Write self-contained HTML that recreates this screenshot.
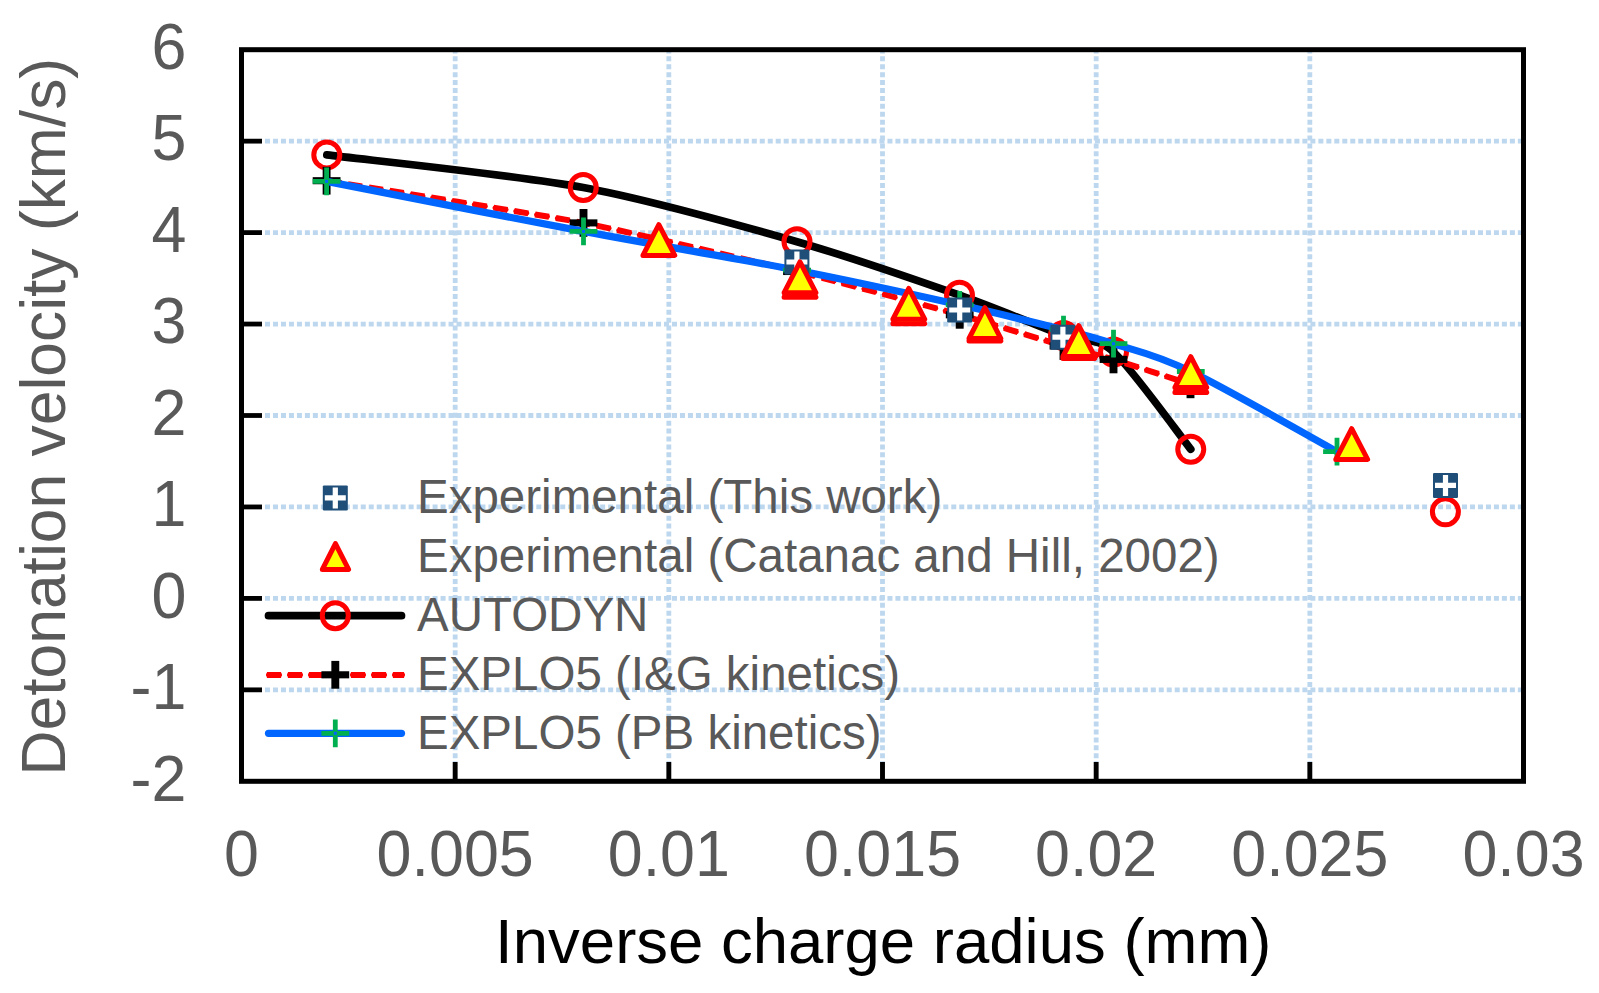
<!DOCTYPE html>
<html lang="en"><head><meta charset="utf-8"><title>Detonation velocity vs inverse charge radius</title>
<style>html,body{margin:0;padding:0;background:#fff}body{width:1599px;height:993px;overflow:hidden}svg{display:block}</style></head>
<body>
<svg width="1599" height="993" viewBox="0 0 1599 993" font-family="'Liberation Sans', sans-serif">
<rect width="1599" height="993" fill="#fff"/>
<g stroke="#bdd7ee" stroke-width="4.8" fill="none">
<path d="M265 141.15H1521.5" stroke-dasharray="5 2.98"/>
<path d="M265 232.60H1521.5" stroke-dasharray="5 2.98"/>
<path d="M265 324.05H1521.5" stroke-dasharray="5 2.98"/>
<path d="M265 415.50H1521.5" stroke-dasharray="5 2.98"/>
<path d="M265 506.95H1521.5" stroke-dasharray="5 2.98"/>
<path d="M265 598.40H1521.5" stroke-dasharray="5 2.98"/>
<path d="M265 689.85H1521.5" stroke-dasharray="5 2.98"/>
<path d="M455.17 48.4V762" stroke-dasharray="5 2.92"/>
<path d="M668.83 48.4V762" stroke-dasharray="5 2.92"/>
<path d="M882.50 48.4V762" stroke-dasharray="5 2.92"/>
<path d="M1096.17 48.4V762" stroke-dasharray="5 2.92"/>
<path d="M1309.83 48.4V762" stroke-dasharray="5 2.92"/>
</g>
<g stroke="#000" stroke-width="5" fill="none">
<rect x="241.5" y="49.7" width="1282.0" height="731.5999999999999" stroke-linejoin="miter"/>
<path d="M241.5 141.15H262" stroke-width="4.8"/>
<path d="M241.5 232.60H262" stroke-width="4.8"/>
<path d="M241.5 324.05H262" stroke-width="4.8"/>
<path d="M241.5 415.50H262" stroke-width="4.8"/>
<path d="M241.5 506.95H262" stroke-width="4.8"/>
<path d="M241.5 598.40H262" stroke-width="4.8"/>
<path d="M241.5 689.85H262" stroke-width="4.8"/>
<path d="M455.17 781.3V762" stroke-width="4.9"/>
<path d="M668.83 781.3V762" stroke-width="4.9"/>
<path d="M882.50 781.3V762" stroke-width="4.9"/>
<path d="M1096.17 781.3V762" stroke-width="4.9"/>
<path d="M1309.83 781.3V762" stroke-width="4.9"/>
</g>
<g fill="#595959" font-size="62.8">
<text transform="translate(186.4 69.00) scale(1 1.035)" text-anchor="end">6</text>
<text transform="translate(186.4 160.45) scale(1 1.035)" text-anchor="end">5</text>
<text transform="translate(186.4 251.90) scale(1 1.035)" text-anchor="end">4</text>
<text transform="translate(186.4 343.35) scale(1 1.035)" text-anchor="end">3</text>
<text transform="translate(186.4 434.80) scale(1 1.035)" text-anchor="end">2</text>
<text transform="translate(186.4 526.25) scale(1 1.035)" text-anchor="end">1</text>
<text transform="translate(186.4 617.70) scale(1 1.035)" text-anchor="end">0</text>
<text transform="translate(186.4 709.15) scale(1 1.035)" text-anchor="end">-1</text>
<text transform="translate(186.4 800.60) scale(1 1.035)" text-anchor="end">-2</text>
<text transform="translate(241.50 876.3) scale(1 1.035)" text-anchor="middle">0</text>
<text transform="translate(455.17 876.3) scale(1 1.035)" text-anchor="middle">0.005</text>
<text transform="translate(668.83 876.3) scale(1 1.035)" text-anchor="middle">0.01</text>
<text transform="translate(882.50 876.3) scale(1 1.035)" text-anchor="middle">0.015</text>
<text transform="translate(1096.17 876.3) scale(1 1.035)" text-anchor="middle">0.02</text>
<text transform="translate(1309.83 876.3) scale(1 1.035)" text-anchor="middle">0.025</text>
<text transform="translate(1523.50 876.3) scale(1 1.035)" text-anchor="middle">0.03</text>
<text transform="translate(64.8 775.6) rotate(-90)" x="0" y="0" font-size="62.4">Detonation velocity (km/s)</text>
</g>
<text x="883.3" y="963" text-anchor="middle" font-size="63.5" fill="#000">Inverse charge radius (mm)</text>
<path d="M326.80 154.90C363.44 159.56 516.08 175.10 583.25 187.50C650.42 199.90 743.25 226.31 797.00 241.70C850.75 257.09 921.43 281.80 959.50 295.20C997.57 308.60 1041.50 327.39 1063.50 335.50C1085.50 343.61 1095.32 335.75 1113.50 352.00C1131.68 368.25 1179.71 435.36 1190.75 449.25" stroke="#000" stroke-width="7.7" fill="none" stroke-linecap="round" stroke-linejoin="round"/>
<circle cx="326.8" cy="154.9" r="13" fill="none" stroke="#ff0000" stroke-width="5"/>
<circle cx="583.25" cy="187.5" r="13" fill="none" stroke="#ff0000" stroke-width="5"/>
<circle cx="797" cy="241.7" r="13" fill="none" stroke="#ff0000" stroke-width="5"/>
<circle cx="959.5" cy="295.2" r="13" fill="none" stroke="#ff0000" stroke-width="5"/>
<circle cx="1063.5" cy="335.5" r="13" fill="none" stroke="#ff0000" stroke-width="5"/>
<circle cx="1113.5" cy="352" r="13" fill="none" stroke="#ff0000" stroke-width="5"/>
<circle cx="1190.75" cy="449.25" r="13" fill="none" stroke="#ff0000" stroke-width="5"/>
<circle cx="1445.4" cy="511.75" r="13" fill="none" stroke="#ff0000" stroke-width="5"/>
<path d="M326.60 180.70C348.01 184.22 544.30 215.33 583.50 222.90C622.70 230.47 765.65 263.84 797.00 271.50C828.35 279.16 937.49 308.59 959.70 314.80C981.91 321.01 1050.68 342.28 1063.50 346.00C1076.32 349.72 1102.92 356.21 1113.50 359.40C1124.08 362.59 1184.08 382.23 1190.50 384.30" stroke="#ff0000" stroke-width="6" stroke-dasharray="14.2 6.8" stroke-dashoffset="-1" fill="none"/>
<path d="M326.60 180.70C348.01 184.22 544.30 215.33 583.50 222.90C622.70 230.47 765.65 263.84 797.00 271.50C828.35 279.16 937.49 308.59 959.70 314.80C981.91 321.01 1050.68 342.28 1063.50 346.00C1076.32 349.72 1102.92 356.21 1113.50 359.40C1124.08 362.59 1184.08 382.23 1190.50 384.30" stroke="#ff0000" stroke-width="4.2" stroke-dasharray="12 9" stroke-dashoffset="-2.1" stroke-linecap="round" fill="none"/>
<path d="M312.70 180.7H340.50" stroke="#000" stroke-width="7.1" fill="none"/><path d="M326.6 166.80V194.60" stroke="#000" stroke-width="7.9" fill="none"/>
<path d="M569.60 222.9H597.40" stroke="#000" stroke-width="7.1" fill="none"/><path d="M583.5 209.00V236.80" stroke="#000" stroke-width="7.9" fill="none"/>
<path d="M783.10 271.5H810.90" stroke="#000" stroke-width="7.1" fill="none"/><path d="M797 257.60V285.40" stroke="#000" stroke-width="7.9" fill="none"/>
<path d="M945.80 314.8H973.60" stroke="#000" stroke-width="7.1" fill="none"/><path d="M959.7 300.90V328.70" stroke="#000" stroke-width="7.9" fill="none"/>
<path d="M1049.60 346H1077.40" stroke="#000" stroke-width="7.1" fill="none"/><path d="M1063.5 332.10V359.90" stroke="#000" stroke-width="7.9" fill="none"/>
<path d="M1099.60 359.4H1127.40" stroke="#000" stroke-width="7.1" fill="none"/><path d="M1113.5 345.50V373.30" stroke="#000" stroke-width="7.9" fill="none"/>
<path d="M1176.60 384.3H1204.40" stroke="#000" stroke-width="7.1" fill="none"/><path d="M1190.5 370.40V398.20" stroke="#000" stroke-width="7.9" fill="none"/>
<path d="M326.60 181.35C369.42 189.69 505.10 216.59 583.50 231.40C661.90 246.21 734.30 257.97 797.00 270.20C859.70 282.43 915.28 294.88 959.70 304.80C1004.12 314.72 1037.87 323.22 1063.50 329.70C1089.13 336.18 1092.28 336.73 1113.50 343.70C1134.72 350.67 1153.55 353.52 1190.80 371.50C1228.05 389.48 1312.63 438.25 1337.00 451.60" stroke="#0066ff" stroke-width="7.2" fill="none" stroke-linecap="round" stroke-linejoin="round"/>
<path d="M312.70 181.35H340.50M326.6 167.45V195.25" stroke="#00b050" stroke-width="4.8" fill="none"/><rect x="325.10" y="179.85" width="3" height="3" fill="#0066ff"/>
<path d="M569.60 231.4H597.40M583.5 217.50V245.30" stroke="#00b050" stroke-width="4.8" fill="none"/><rect x="582.00" y="229.90" width="3" height="3" fill="#0066ff"/>
<path d="M783.10 270.2H810.90M797 256.30V284.10" stroke="#00b050" stroke-width="4.8" fill="none"/><rect x="795.50" y="268.70" width="3" height="3" fill="#0066ff"/>
<path d="M945.80 304.8H973.60M959.7 290.90V318.70" stroke="#00b050" stroke-width="4.8" fill="none"/><rect x="958.20" y="303.30" width="3" height="3" fill="#0066ff"/>
<path d="M1049.60 329.7H1077.40M1063.5 315.80V343.60" stroke="#00b050" stroke-width="4.8" fill="none"/><rect x="1062.00" y="328.20" width="3" height="3" fill="#0066ff"/>
<path d="M1099.60 343.7H1127.40M1113.5 329.80V357.60" stroke="#00b050" stroke-width="4.8" fill="none"/><rect x="1112.00" y="342.20" width="3" height="3" fill="#0066ff"/>
<path d="M1176.90 371.5H1204.70M1190.8 357.60V385.40" stroke="#00b050" stroke-width="4.8" fill="none"/><rect x="1189.30" y="370.00" width="3" height="3" fill="#0066ff"/>
<path d="M1323.10 451.6H1350.90M1337 437.70V465.50" stroke="#00b050" stroke-width="4.8" fill="none"/><rect x="1335.50" y="450.10" width="3" height="3" fill="#0066ff"/>
<rect x="784.4" y="249.5" width="25" height="25" rx="1.2" fill="#1f4e79"/><path d="M786.4 262H807.4M796.9 251.5V272.5" stroke="#fff" stroke-width="5.2" fill="none"/>
<rect x="947.2" y="297.5" width="25" height="25" rx="1.2" fill="#1f4e79"/><path d="M949.2 310H970.2M959.7 299.5V320.5" stroke="#fff" stroke-width="5.2" fill="none"/>
<rect x="1050.4" y="324.7" width="25" height="25" rx="1.2" fill="#1f4e79"/><path d="M1052.4 337.2H1073.4M1062.9 326.7V347.7" stroke="#fff" stroke-width="5.2" fill="none"/>
<rect x="1433.0" y="472.9" width="25" height="25" rx="1.2" fill="#1f4e79"/><path d="M1435.0 485.4H1456.0M1445.5 474.9V495.9" stroke="#fff" stroke-width="5.2" fill="none"/>
<path d="M658.85 224.6L674.75 255.4H642.95Z" fill="#ffff00" stroke="#ff0000" stroke-width="5" stroke-linejoin="round"/>
<path d="M800 266.40000000000003L815.9 297.2H784.1Z" fill="#ffff00" stroke="#ff0000" stroke-width="5" stroke-linejoin="round"/>
<path d="M800 261.90000000000003L815.9 292.7H784.1Z" fill="#ffff00" stroke="#ff0000" stroke-width="5" stroke-linejoin="round"/>
<path d="M908.8 292.90000000000003L924.6999999999999 323.7H892.9Z" fill="#ffff00" stroke="#ff0000" stroke-width="5" stroke-linejoin="round"/>
<path d="M908.8 288.40000000000003L924.6999999999999 319.2H892.9Z" fill="#ffff00" stroke="#ff0000" stroke-width="5" stroke-linejoin="round"/>
<path d="M984.9 310.20000000000005L1000.8 341.0H969.0Z" fill="#ffff00" stroke="#ff0000" stroke-width="5" stroke-linejoin="round"/>
<path d="M984.9 307.70000000000005L1000.8 338.5H969.0Z" fill="#ffff00" stroke="#ff0000" stroke-width="5" stroke-linejoin="round"/>
<path d="M1078.8 327.70000000000005L1094.7 358.5H1062.8999999999999Z" fill="#ffff00" stroke="#ff0000" stroke-width="5" stroke-linejoin="round"/>
<path d="M1078.8 325.70000000000005L1094.7 356.5H1062.8999999999999Z" fill="#ffff00" stroke="#ff0000" stroke-width="5" stroke-linejoin="round"/>
<path d="M1190.8 361.70000000000005L1206.7 392.5H1174.8999999999999Z" fill="#ffff00" stroke="#ff0000" stroke-width="5" stroke-linejoin="round"/>
<path d="M1190.8 356.70000000000005L1206.7 387.5H1174.8999999999999Z" fill="#ffff00" stroke="#ff0000" stroke-width="5" stroke-linejoin="round"/>
<path d="M1351.7 428.6L1367.6000000000001 459.4H1335.8Z" fill="#ffff00" stroke="#ff0000" stroke-width="5" stroke-linejoin="round"/>
<rect x="322.8" y="485.4" width="25" height="25" rx="1.2" fill="#1f4e79"/><path d="M324.8 497.9H345.8M335.3 487.4V508.4" stroke="#fff" stroke-width="5.2" fill="none"/>
<path d="M335.45 543.6L348.55 569.4H322.34999999999997Z" fill="#ffff00" stroke="#ff0000" stroke-width="5" stroke-linejoin="round"/>
<path d="M268.5 615.7H401.5" stroke="#000" stroke-width="7.7" stroke-linecap="round"/>
<circle cx="335.3" cy="615.7" r="13" fill="none" stroke="#ff0000" stroke-width="5"/>
<path d="M265.9 674.9499999999999H404.1" stroke="#ff0000" stroke-width="6" stroke-dasharray="14.2 6.8" stroke-dashoffset="-1"/>
<path d="M265.9 674.9499999999999H403" stroke="#ff0000" stroke-width="4.2" stroke-dasharray="12 9" stroke-dashoffset="-2.1" stroke-linecap="round"/>
<path d="M321.40 674.8H349.20" stroke="#000" stroke-width="7.1" fill="none"/><path d="M335.3 660.90V688.70" stroke="#000" stroke-width="7.9" fill="none"/>
<path d="M268.5 733.3H401.5" stroke="#0066ff" stroke-width="7.2" stroke-linecap="round"/>
<path d="M321.40 733.3H349.20M335.3 719.40V747.20" stroke="#00b050" stroke-width="4.8" fill="none"/><rect x="333.80" y="731.80" width="3" height="3" fill="#0066ff"/>
<g fill="#595959" font-size="47.5">
<text x="417" y="513.2">Experimental (This work)</text>
<text x="417" y="572.1">Experimental (Catanac and Hill, 2002)</text>
<text x="417" y="631.0">AUTODYN</text>
<text x="417" y="689.9">EXPLO5 (I&amp;G kinetics)</text>
<text x="417" y="748.8">EXPLO5 (PB kinetics)</text>
</g>
</svg>
</body></html>
